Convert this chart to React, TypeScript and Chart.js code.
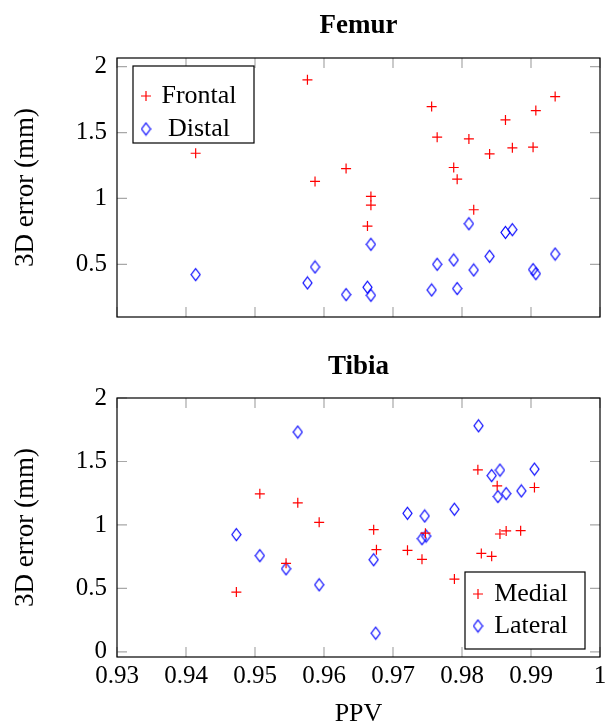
import { useEffect, useRef } from "react";
import { Chart, registerables } from "chart.js";

Chart.register(...registerables);

const SERIF = '"Liberation Serif", "Times New Roman", serif';

// ---- tick values ----
const xTickValues = [0.93, 0.94, 0.95, 0.96, 0.97, 0.98, 0.99, 1.0];
const femurYTickValues = [0.5, 1, 1.5, 2];
const tibiaYTickValues = [0, 0.5, 1, 1.5, 2];

// ---- Femur data ----
const femurPPV = [0.9414, 0.9576, 0.9587, 0.9632, 0.9663, 0.9668, 0.9668, 0.9756, 0.9764, 0.9788, 0.9793, 0.981, 0.9817, 0.984, 0.9863, 0.9873, 0.9903, 0.9907, 0.9935];
const femurFrontal = [1.343, 1.9, 1.129, 1.227, 0.79, 1.015, 0.949, 1.697, 1.465, 1.235, 1.146, 1.452, 0.914, 1.338, 1.596, 1.384, 1.389, 1.667, 1.773];
const femurDistal = [0.422, 0.359, 0.48, 0.27, 0.326, 0.652, 0.265, 0.305, 0.5, 0.533, 0.316, 0.808, 0.457, 0.561, 0.742, 0.763, 0.46, 0.429, 0.578];

// ---- Tibia data ----
const tibiaMedialPPV = [0.9473, 0.9507, 0.9545, 0.9562, 0.9593, 0.9672, 0.9676, 0.9721, 0.9742, 0.9747, 0.9789, 0.9823, 0.9828, 0.9843, 0.9851, 0.9855, 0.9864, 0.9885, 0.9905];
const tibiaMedial = [0.471, 1.245, 0.698, 1.174, 1.021, 0.963, 0.805, 0.8, 0.729, 0.935, 0.574, 1.434, 0.776, 0.753, 1.308, 0.929, 0.953, 0.955, 1.295];
const tibiaLateralPPV = [0.9473, 0.9507, 0.9545, 0.9562, 0.9593, 0.9672, 0.9675, 0.9721, 0.9742, 0.9746, 0.9748, 0.9789, 0.9824, 0.9843, 0.9852, 0.9855, 0.9864, 0.9886, 0.9905];
const tibiaLateral = [0.924, 0.758, 0.655, 1.732, 0.529, 0.726, 0.148, 1.092, 0.892, 1.071, 0.913, 1.124, 1.781, 1.389, 1.224, 1.432, 1.247, 1.268, 1.44];

const RED = "#ff0000";
const BLUE = "#0000ff";

function makeDiamond(color: string): HTMLCanvasElement {
  const c = document.createElement("canvas");
  c.width = 11;
  c.height = 15;
  const g = c.getContext("2d")!;
  g.strokeStyle = color;
  g.lineWidth = 1.2;
  g.beginPath();
  g.moveTo(5.5, 1.5);
  g.lineTo(10, 7.5);
  g.lineTo(5.5, 13.5);
  g.lineTo(1, 7.5);
  g.closePath();
  g.stroke();
  return c;
}

const pgfPlugin = {
  id: "pgf",
  beforeDatasetsDraw(chart: any, _args: any, opts: any) {
    const { ctx, chartArea: a, scales } = chart;
    const xs = scales.x;
    const ys = scales.y;
    const L = 10;
    ctx.save();
    ctx.strokeStyle = "#a8a8a8";
    ctx.lineWidth = 1.2;
    ctx.beginPath();
    for (const t of xs.ticks) {
      const p = xs.getPixelForValue(t.value);
      ctx.moveTo(p, a.bottom);
      ctx.lineTo(p, a.bottom - L);
      ctx.moveTo(p, a.top);
      ctx.lineTo(p, a.top + L);
    }
    for (const t of ys.ticks) {
      const p = ys.getPixelForValue(t.value);
      ctx.moveTo(a.left, p);
      ctx.lineTo(a.left + L, p);
      ctx.moveTo(a.right, p);
      ctx.lineTo(a.right - L, p);
    }
    ctx.stroke();
    ctx.strokeStyle = "#000";
    ctx.lineWidth = 1.2;
    ctx.strokeRect(a.left, a.top, a.right - a.left, a.bottom - a.top);
    ctx.restore();
  },
  afterDraw(chart: any, _args: any, opts: any) {
    const { ctx, chartArea: a } = chart;
    ctx.save();
    // panel title
    ctx.fillStyle = "#000";
    ctx.font = `bold 27px ${SERIF}`;
    ctx.textAlign = "center";
    ctx.textBaseline = "alphabetic";
    ctx.fillText(opts.title, (a.left + a.right) / 2, opts.titleBaseline);

    // legend
    const lg = opts.legend;
    const x0 = lg.anchor === "nw" ? a.left + lg.dx : a.right - lg.dx;
    const y0 = lg.anchor === "nw" ? a.top + lg.dy : a.bottom - lg.dy;
    ctx.fillStyle = "#fff";
    ctx.fillRect(x0, y0, lg.w, lg.h);
    ctx.strokeStyle = "#000";
    ctx.lineWidth = 1.2;
    ctx.strokeRect(x0, y0, lg.w, lg.h);
    chart.data.datasets.forEach((ds: any, i: number) => {
      const cy = y0 + lg.rows[i];
      const mx = x0 + lg.markerX;
      if (ds.pointStyle instanceof HTMLCanvasElement) {
        const im = ds.pointStyle as HTMLCanvasElement;
        ctx.drawImage(im, mx - im.width / 2, cy - im.height / 2);
      } else {
        ctx.strokeStyle = ds.pointBorderColor;
        ctx.lineWidth = ds.pointBorderWidth;
        const r = ds.pointRadius;
        ctx.beginPath();
        ctx.moveTo(mx - r, cy);
        ctx.lineTo(mx + r, cy);
        ctx.moveTo(mx, cy - r);
        ctx.lineTo(mx, cy + r);
        ctx.stroke();
      }
      ctx.fillStyle = "#000";
      ctx.font = `26px ${SERIF}`;
      ctx.textAlign = "center";
      ctx.textBaseline = "middle";
      ctx.fillText(ds.label, x0 + lg.textX, cy);
    });
    ctx.restore();
  },
};

const fmt = (v: any) => String(v);

function yScale(min: number, max: number, tickValues: number[]) {
  return {
    type: "linear",
    min,
    max,
    afterBuildTicks: (s: any) => {
      s.ticks = tickValues.map((v) => ({ value: v }));
    },
    ticks: { font: { family: SERIF, size: 25 }, color: "#000", padding: 10, callback: fmt },
    grid: { display: false, drawTicks: false },
    border: { display: false },
    title: {
      display: true,
      text: "3D error (mm)",
      color: "#000",
      font: { family: SERIF, size: 27 },
      padding: { top: 10, bottom: 0 },
    },
    afterFit: (s: any) => {
      s.width = 117;
      s.paddingTop = 0;
      s.paddingBottom = 0;
    },
  };
}

function xScale(bottom: boolean) {
  return {
    type: "linear",
    min: 0.93,
    max: 1.0,
    afterBuildTicks: (s: any) => {
      s.ticks = xTickValues.map((v) => ({ value: v }));
    },
    ticks: {
      display: bottom,
      font: { family: SERIF, size: 25 },
      color: "#000",
      padding: 4,
      maxRotation: 0,
      autoSkip: false,
      callback: fmt,
    },
    grid: { display: false, drawTicks: false },
    border: { display: false },
    title: {
      display: bottom,
      text: "PPV",
      color: "#000",
      font: { family: SERIF, size: 26, lineHeight: 0.85 },
      padding: 0,
    },
    afterFit: (s: any) => {
      s.height = bottom ? 68 : 23;
      s.paddingLeft = 0;
      s.paddingRight = 0;
    },
  };
}

export default function App() {
  const topRef = useRef<HTMLCanvasElement>(null);
  const botRef = useRef<HTMLCanvasElement>(null);

  useEffect(() => {
    const diamond = makeDiamond(BLUE);
    const crossDs = (label: string, xs: number[], ys: number[]) => ({
      label,
      data: xs.map((x, i) => ({ x, y: ys[i] })),
      pointStyle: "cross",
      pointRadius: 5,
      pointBorderColor: RED,
      pointBackgroundColor: RED,
      pointBorderWidth: 1.2,
      borderColor: RED,
      showLine: false,
      clip: false,
    });
    const diamondDs = (label: string, xs: number[], ys: number[]) => ({
      label,
      data: xs.map((x, i) => ({ x, y: ys[i] })),
      pointStyle: diamond,
      pointRadius: 6,
      pointBorderColor: BLUE,
      borderColor: BLUE,
      showLine: false,
      clip: false,
    });

    const common = {
      responsive: false,
      animation: false,
      devicePixelRatio: 1,
      events: [],
    };

    const top = new Chart(topRef.current!, {
      type: "scatter",
      data: {
        datasets: [
          crossDs("Frontal", femurPPV, femurFrontal),
          diamondDs("Distal", femurPPV, femurDistal),
        ],
      },
      options: {
        ...common,
        layout: { padding: { top: 58, right: 5, left: 0, bottom: 0 } },
        scales: { x: xScale(false), y: yScale(0.1, 2.066, femurYTickValues) },
        plugins: {
          legend: { display: false },
          title: { display: false },
          tooltip: { enabled: false },
          pgf: {
            title: "Femur",
            titleBaseline: 33,
            legend: { anchor: "nw", dx: 16, dy: 8, w: 121, h: 77, rows: [30, 63], markerX: 13, textX: 66 },
          },
        },
      } as any,
      plugins: [pgfPlugin as any],
    } as any);

    const bot = new Chart(botRef.current!, {
      type: "scatter",
      data: {
        datasets: [
          crossDs("Medial", tibiaMedialPPV, tibiaMedial),
          diamondDs("Lateral", tibiaLateralPPV, tibiaLateral),
        ],
      },
      options: {
        ...common,
        layout: { padding: { top: 58, right: 5, left: 0, bottom: 0 } },
        scales: { x: xScale(true), y: yScale(-0.04, 2, tibiaYTickValues) },
        plugins: {
          legend: { display: false },
          title: { display: false },
          tooltip: { enabled: false },
          pgf: {
            title: "Tibia",
            titleBaseline: 34,
            legend: { anchor: "se", dx: 135, dy: 85, w: 120, h: 77, rows: [22, 54], markerX: 13, textX: 66 },
          },
        },
      } as any,
      plugins: [pgfPlugin as any],
    } as any);

    return () => {
      top.destroy();
      bot.destroy();
    };
  }, []);

  return (
    <div style={{ position: "absolute", left: 0, top: 0, width: 607, height: 725, background: "#fff" }}>
      <canvas ref={topRef} width={607} height={340} style={{ position: "absolute", left: 0, top: 0, display: "block" }} />
      <canvas ref={botRef} width={607} height={385} style={{ position: "absolute", left: 0, top: 340, display: "block" }} />
    </div>
  );
}
